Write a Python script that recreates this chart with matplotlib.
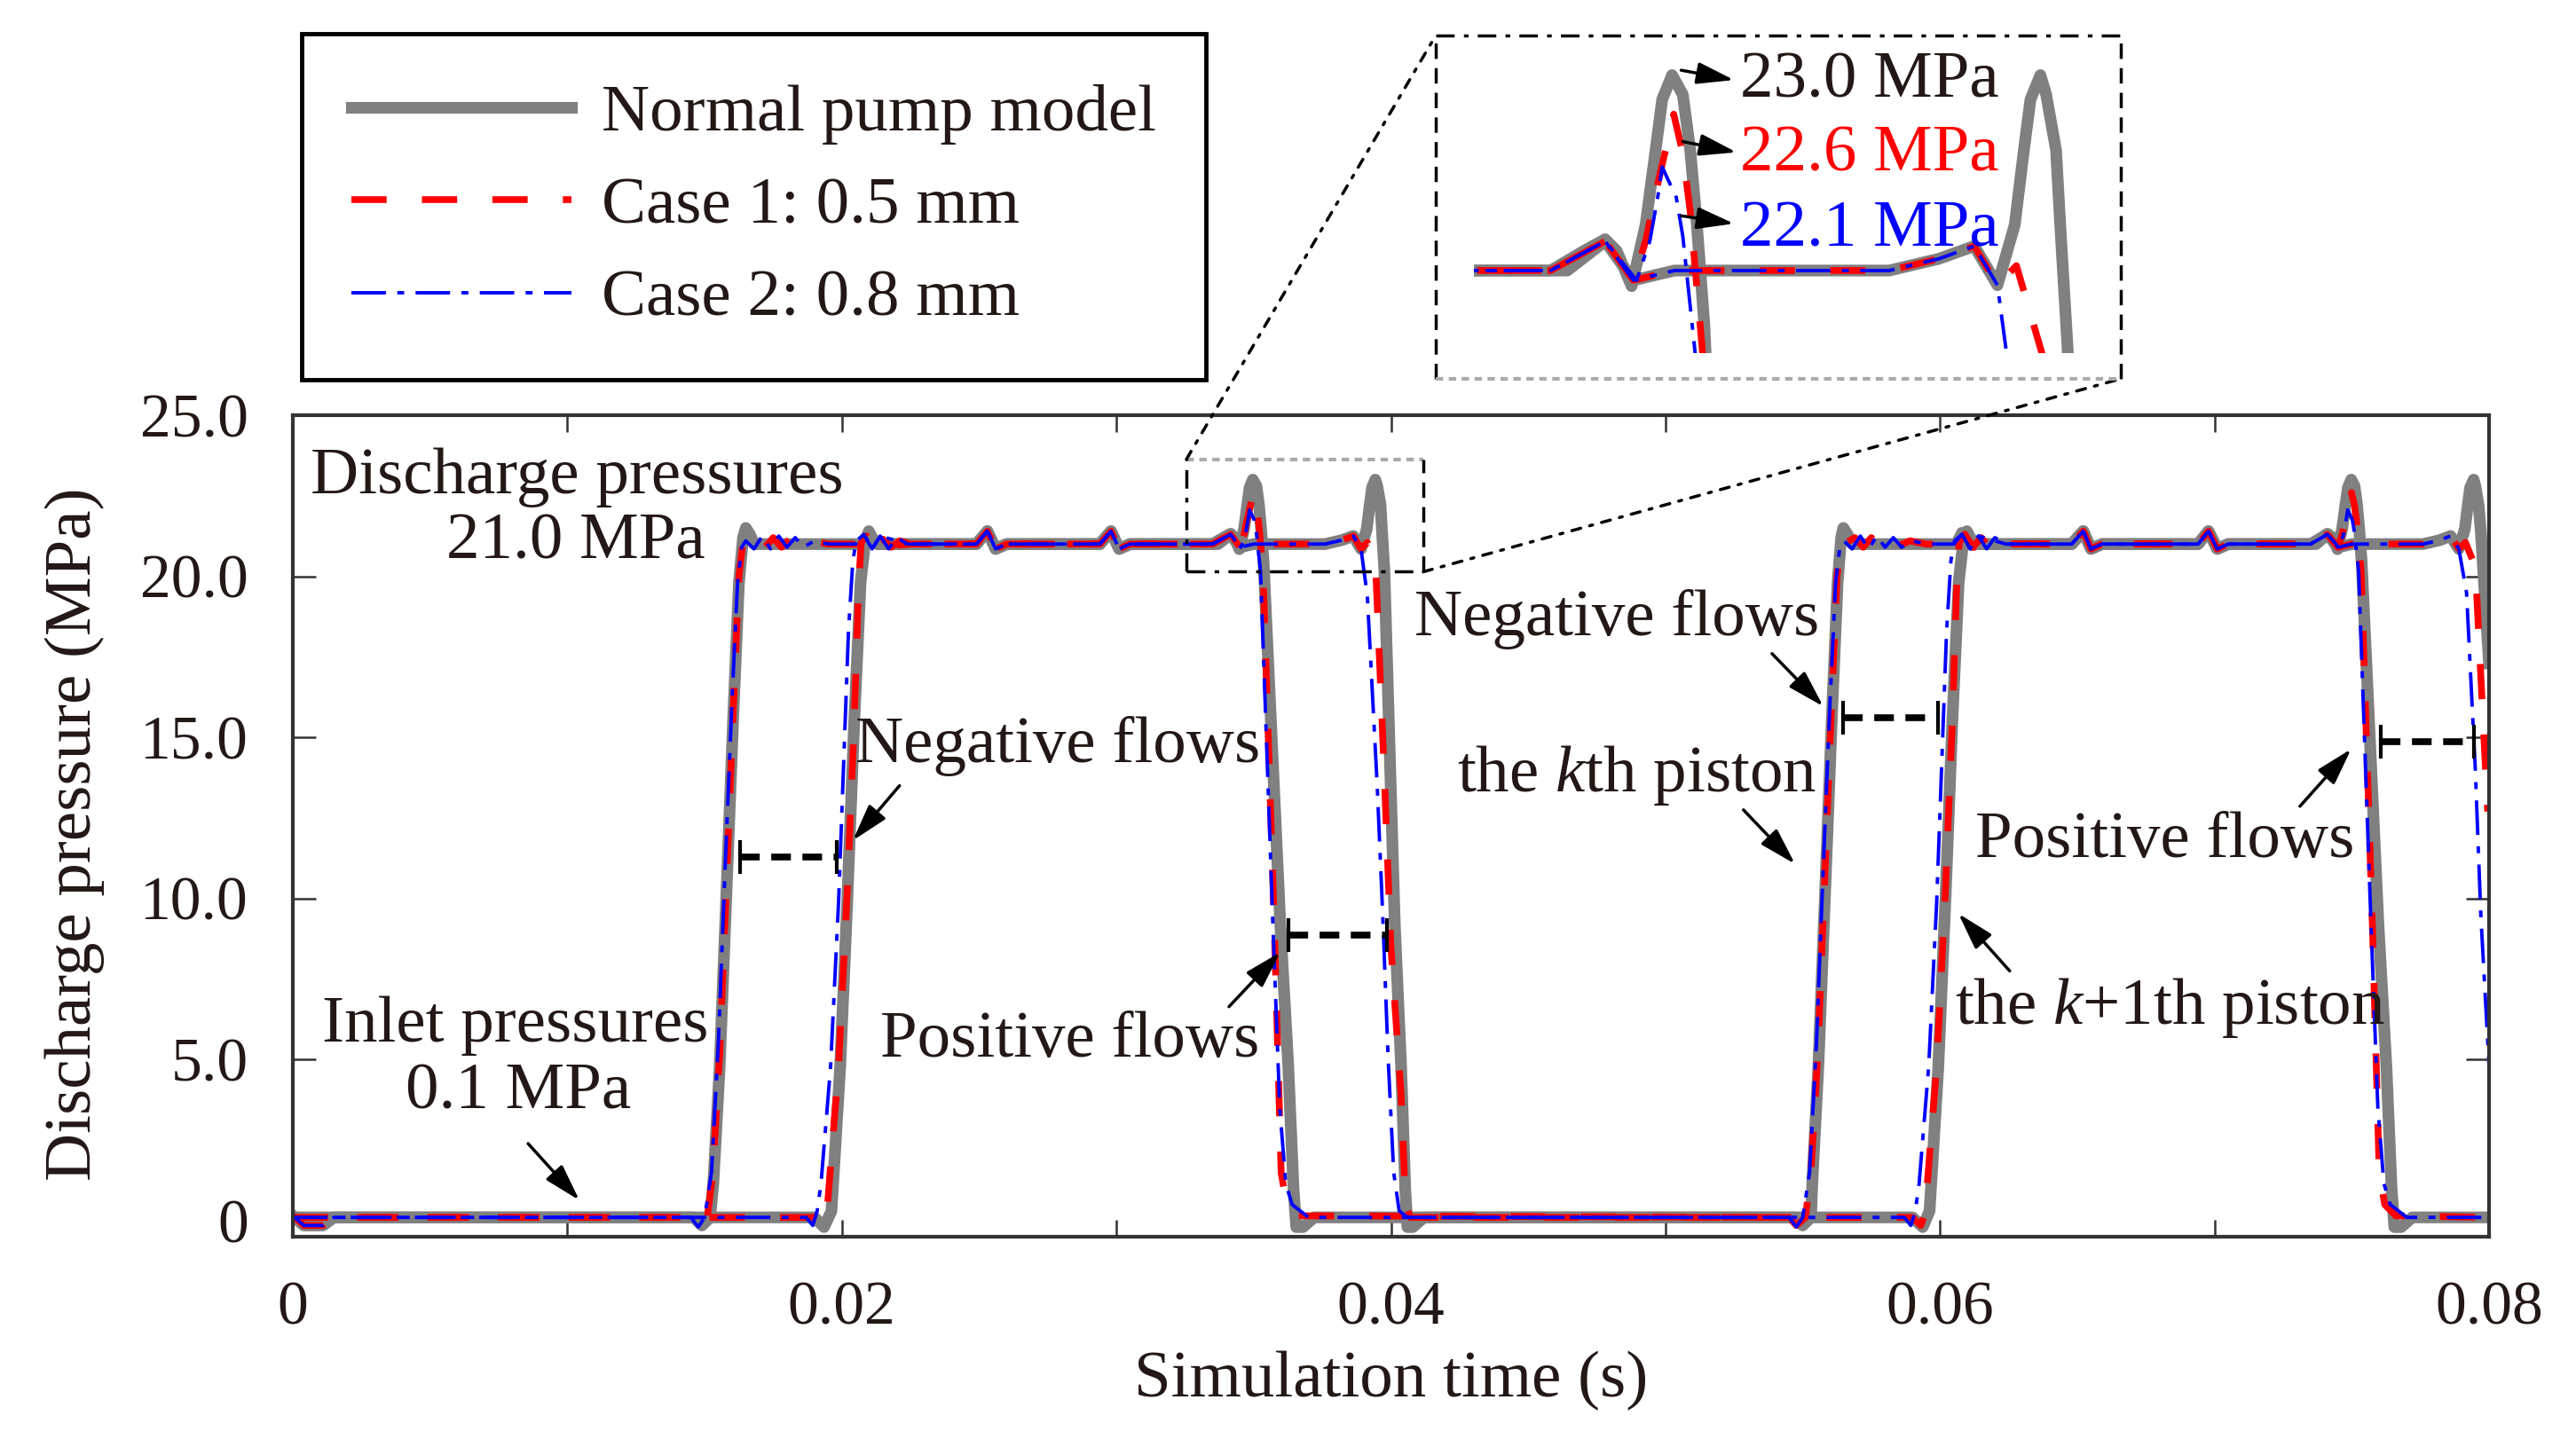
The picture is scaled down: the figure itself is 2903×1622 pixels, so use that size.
import numpy as np
import matplotlib.pyplot as plt
from matplotlib.lines import Line2D
from matplotlib.patches import ConnectionPatch

plt.rcParams['font.family'] = ['Liberation Serif', 'DejaVu Serif']
plt.rcParams['mathtext.fontset'] = 'custom'
plt.rcParams['mathtext.rm'] = 'Liberation Serif'
plt.rcParams['mathtext.it'] = 'Liberation Serif:italic'

# ---------------- data (time in s, pressure in MPa) ----------------
# normal pump model, kth piston
normal_k_t = [0.0, 0.0146, 0.0149, 0.0152, 0.01532, 0.01555, 0.0158, 0.01605, 0.01625, 0.0164, 0.0165, 0.01665, 0.0168,
              0.0208, 0.0210, 0.0213, 0.0249, 0.0253, 0.0256, 0.0260, 0.0294, 0.0298, 0.0301, 0.0305,
              0.0335, 0.0339, 0.03416, 0.0343, 0.03448, 0.03465, 0.03477, 0.03485, 0.03497, 0.0351, 0.03519, 0.03527, 0.03536,
              0.03597, 0.03626, 0.03645, 0.03655, 0.0368, 0.0372,
              0.0547, 0.0550, 0.0553, 0.05535, 0.05557, 0.05582, 0.05607, 0.05627, 0.0564, 0.05648, 0.05663, 0.0568,
              0.0606, 0.0608, 0.0611, 0.0648, 0.06522, 0.0655, 0.0659, 0.0694, 0.06978, 0.0701, 0.0705,
              0.0735, 0.0739, 0.07411, 0.0743, 0.07448, 0.07465, 0.07477, 0.07486, 0.07498, 0.0751, 0.07519, 0.07527, 0.07536,
              0.07597, 0.07626, 0.07645, 0.07655, 0.0768, 0.0772, 0.0800]
normal_k_p = [0.1, 0.1, -0.15, 0.1, 1.2, 4.8, 10.3, 15.8, 19.8, 21.2, 21.5, 21.3, 21.0,
              21.0, 21.3, 21.0, 21.0, 21.4, 20.85, 21.0, 21.0, 21.4, 20.85, 21.0,
              21.0, 21.2, 21.32, 21.2, 20.84, 21.47, 22.23, 22.75, 23.0, 22.8, 22.23, 21.47, 20.45,
              9.2, 4.8, 1.0, -0.2, -0.2, 0.1,
              0.1, -0.15, 0.1, 1.2, 4.8, 10.3, 15.8, 19.8, 21.2, 21.5, 21.3, 21.0,
              21.0, 21.35, 21.0, 21.0, 21.4, 20.85, 21.0, 21.0, 21.4, 20.85, 21.0,
              21.0, 21.2, 21.32, 21.2, 20.84, 21.47, 22.23, 22.75, 23.0, 22.8, 22.23, 21.47, 20.45,
              9.2, 4.8, 1.0, -0.2, -0.2, 0.1, 0.1]

# normal pump model, k+1th piston
normal_k1_t = [0.0, 0.0004, 0.0011, 0.0015, 0.0190, 0.01935, 0.01962, 0.01994, 0.0202, 0.02045, 0.02068, 0.02085, 0.02098, 0.0211, 0.0213,
               0.0249, 0.0253, 0.0256, 0.0260, 0.0294, 0.0298, 0.0301, 0.0305, 0.0337, 0.03416, 0.0345, 0.0350,
               0.0376, 0.0382, 0.03863, 0.03891, 0.03912, 0.03923, 0.03931, 0.03943, 0.0395, 0.03962, 0.03967, 0.03976,
               0.04014, 0.04037, 0.04052, 0.0406, 0.0408, 0.0412,
               0.0590, 0.05937, 0.05962, 0.05994, 0.0602, 0.06045, 0.06068, 0.06085, 0.06098, 0.0611, 0.0613,
               0.0648, 0.06522, 0.0655, 0.0659, 0.0694, 0.06978, 0.0701, 0.0705, 0.0737, 0.07411, 0.0745, 0.0750,
               0.0776, 0.0782, 0.0786, 0.0789, 0.07912, 0.07923, 0.07931, 0.07944, 0.0795, 0.07962, 0.0797, 0.0800]
normal_k1_p = [0.15, -0.15, -0.15, 0.1, 0.1, -0.2, 0.3, 4.8, 10.0, 15.5, 19.8, 21.1, 21.4, 21.2, 21.0,
               21.0, 21.4, 20.85, 21.0, 21.0, 21.4, 20.85, 21.0, 21.0, 21.3, 20.9, 21.0,
               21.0, 21.12, 21.25, 20.85, 21.47, 22.23, 22.75, 23.0, 22.8, 22.23, 21.47, 20.2,
               9.2, 4.8, 1.0, -0.2, -0.2, 0.1,
               0.1, -0.2, 0.3, 4.8, 10.0, 15.5, 19.8, 21.1, 21.4, 21.2, 21.0,
               21.0, 21.4, 20.85, 21.0, 21.0, 21.4, 20.85, 21.0, 21.0, 21.3, 20.9, 21.0,
               21.0, 21.12, 21.25, 20.85, 21.47, 22.23, 22.75, 23.0, 22.8, 22.2, 21.4, 17.3]

# case 1 (0.5 mm), kth piston
case1_k_t = [0.0, 0.0145, 0.01477, 0.0151, 0.0153, 0.01555, 0.0158, 0.01605, 0.01625, 0.0164, 0.0166,
             0.0169, 0.0172, 0.0175, 0.0178, 0.0181, 0.0185, 0.0189, 0.0195, 0.0205, 0.0209, 0.0212, 0.0215, 0.0218, 0.0221, 0.0225,
             0.0249, 0.0253, 0.0256, 0.0260, 0.0294, 0.0298, 0.0301, 0.0305,
             0.0335, 0.03416, 0.0345, 0.03465, 0.0348, 0.03499, 0.0351, 0.03519, 0.03534, 0.03575, 0.0360, 0.0362, 0.0366,
             0.0545, 0.05477, 0.0551, 0.0553, 0.05555, 0.0558, 0.05605, 0.05625, 0.0564, 0.0566,
             0.0569, 0.0572, 0.0575, 0.0578, 0.0581, 0.0585, 0.0589, 0.0595, 0.0605, 0.0609, 0.0612, 0.0615, 0.0618, 0.0621, 0.0625,
             0.0648, 0.06522, 0.0655, 0.0659, 0.0694, 0.06978, 0.0701, 0.0705,
             0.0735, 0.07411, 0.0745, 0.07465, 0.0748, 0.07499, 0.0751, 0.07519, 0.07534, 0.07575, 0.0760, 0.0762, 0.0766, 0.0800]
case1_k_p = [0.1, 0.1, -0.15, 0.1, 1.5, 5.2, 10.6, 16.0, 20.0, 21.1, 21.05,
             21.2, 20.9, 21.2, 20.9, 21.15, 20.95, 21.1, 21.0, 21.0, 21.25, 20.9, 21.15, 20.9, 21.1, 21.0,
             21.0, 21.4, 20.85, 21.0, 21.0, 21.4, 20.85, 21.0,
             21.0, 21.3, 20.9, 21.3, 21.9, 22.6, 22.2, 21.6, 20.15, 9.2, 1.5, 0.5, 0.15,
             0.1, -0.15, 0.1, 1.5, 5.2, 10.6, 16.0, 20.0, 21.1, 21.05,
             21.2, 20.9, 21.2, 20.9, 21.15, 20.95, 21.1, 21.0, 21.0, 21.3, 20.9, 21.2, 20.9, 21.15, 21.0,
             21.0, 21.4, 20.85, 21.0, 21.0, 21.4, 20.85, 21.0,
             21.0, 21.3, 20.9, 21.3, 21.9, 22.6, 22.2, 21.6, 20.15, 9.2, 1.5, 0.5, 0.15, 0.1]

# case 1 (0.5 mm), k+1th piston
case1_k1_t = [0.0, 0.0004, 0.0011, 0.0015, 0.0190, 0.0193, 0.01945, 0.01988, 0.0202, 0.02045, 0.0206, 0.0207, 0.0209, 0.0212, 0.0225,
              0.0249, 0.0253, 0.0256, 0.0260, 0.0294, 0.0298, 0.0301, 0.0305, 0.0335, 0.03416, 0.0345, 0.0350,
              0.0376, 0.0382, 0.03863, 0.03891, 0.03914, 0.03945, 0.03975, 0.0400, 0.04037, 0.04053, 0.0407,
              0.0590, 0.0593, 0.05945, 0.05988, 0.0602, 0.06045, 0.0606, 0.0607, 0.0609, 0.0612, 0.0625,
              0.0648, 0.06522, 0.0655, 0.0659, 0.0694, 0.06978, 0.0701, 0.0705, 0.0735, 0.07411, 0.0745, 0.0750,
              0.0776, 0.0782, 0.0786, 0.0789, 0.07914, 0.0795, 0.07995]
case1_k1_p = [0.15, -0.15, -0.15, 0.1, 0.1, -0.15, 0.2, 4.8, 10.3, 15.5, 19.5, 21.05, 21.25, 20.9, 21.0,
              21.0, 21.4, 20.85, 21.0, 21.0, 21.4, 20.85, 21.0, 21.0, 21.3, 20.9, 21.0,
              21.0, 21.12, 21.25, 20.85, 21.05, 20.15, 14.0, 8.5, 3.9, 0.6, 0.1,
              0.1, -0.15, 0.2, 4.8, 10.3, 15.5, 19.5, 21.05, 21.3, 20.9, 21.0,
              21.0, 21.4, 20.85, 21.0, 21.0, 21.4, 20.85, 21.0, 21.0, 21.3, 20.9, 21.0,
              21.0, 21.12, 21.25, 20.85, 21.05, 20.3, 12.7]

# case 2 (0.8 mm), kth piston
case2_k_t = [0.0, 0.0145, 0.01477, 0.0150, 0.01525, 0.0155, 0.01575, 0.0160, 0.0162, 0.01635, 0.0165,
             0.0168, 0.0171, 0.0174, 0.0177, 0.0180, 0.0183, 0.0186, 0.0190, 0.0195, 0.0205, 0.0208, 0.0211, 0.0214, 0.0217, 0.0220, 0.0224,
             0.0249, 0.0253, 0.0256, 0.0260, 0.0294, 0.0298, 0.0301, 0.0305,
             0.0335, 0.03416, 0.03454, 0.0347, 0.0348, 0.03485, 0.03502, 0.0351, 0.03525, 0.0357, 0.03595, 0.03617, 0.0364, 0.0367, 0.0370,
             0.0545, 0.05477, 0.0550, 0.05525, 0.0555, 0.05575, 0.0560, 0.0562, 0.05635, 0.0565,
             0.0568, 0.0571, 0.0574, 0.0577, 0.0580, 0.0583, 0.0586, 0.0590, 0.0595, 0.0605, 0.0608, 0.0611, 0.0614, 0.0617, 0.0620, 0.0624,
             0.0648, 0.06522, 0.0655, 0.0659, 0.0694, 0.06978, 0.0701, 0.0705,
             0.0735, 0.07411, 0.07454, 0.0747, 0.0748, 0.07485, 0.07502, 0.0751, 0.07525, 0.0757, 0.07595, 0.07617, 0.0764, 0.0767, 0.0770, 0.0800]
case2_k_p = [0.1, 0.1, -0.2, 0.1, 1.5, 5.5, 11.0, 16.2, 19.8, 20.9, 21.1,
             20.85, 21.25, 20.85, 21.25, 20.9, 21.2, 20.9, 21.1, 21.0, 21.0, 21.3, 20.85, 21.25, 20.85, 21.2, 21.0,
             21.0, 21.4, 20.85, 21.0, 21.0, 21.4, 20.85, 21.0,
             21.0, 21.3, 20.9, 21.3, 21.77, 22.06, 21.75, 21.35, 20.15, 9.2, 3.5, 1.15, 0.5, 0.3, 0.1,
             0.1, -0.2, 0.1, 1.5, 5.5, 11.0, 16.2, 19.8, 20.9, 21.1,
             20.85, 21.25, 20.85, 21.25, 20.9, 21.2, 20.9, 21.1, 21.0, 21.0, 21.3, 20.85, 21.25, 20.85, 21.2, 21.0,
             21.0, 21.4, 20.85, 21.0, 21.0, 21.4, 20.85, 21.0,
             21.0, 21.3, 20.9, 21.3, 21.77, 22.06, 21.75, 21.35, 20.15, 9.2, 3.5, 1.15, 0.5, 0.3, 0.1, 0.1]

# case 2 (0.8 mm), k+1th piston
case2_k1_t = [0.0, 0.0004, 0.0011, 0.0015, 0.0187, 0.01894, 0.0191, 0.01924, 0.01959, 0.01988, 0.02024, 0.0204, 0.02053, 0.0208, 0.0211, 0.0214, 0.0224,
              0.0249, 0.0253, 0.0256, 0.0260, 0.0294, 0.0298, 0.0301, 0.0305, 0.0335, 0.03416, 0.0345, 0.0350,
              0.0376, 0.0382, 0.03863, 0.03891, 0.03914, 0.0395, 0.0397, 0.0399, 0.0401, 0.0403, 0.0406,
              0.0587, 0.05894, 0.0591, 0.05924, 0.05959, 0.05988, 0.06024, 0.0604, 0.06053, 0.0608, 0.0611, 0.0614, 0.0624,
              0.0648, 0.06522, 0.0655, 0.0659, 0.0694, 0.06978, 0.0701, 0.0705, 0.0735, 0.07411, 0.0745, 0.0750,
              0.0776, 0.0782, 0.0786, 0.0789, 0.07918, 0.0795, 0.0797, 0.0800]
case2_k1_p = [0.15, -0.15, -0.15, 0.1, 0.1, -0.15, 0.3, 1.15, 4.8, 9.9, 18.3, 20.5, 21.1, 21.3, 20.85, 21.25, 21.0,
              21.0, 21.4, 20.85, 21.0, 21.0, 21.4, 20.85, 21.0, 21.0, 21.3, 20.9, 21.0,
              21.0, 21.12, 21.25, 20.85, 19.4, 13.5, 9.5, 5.0, 1.5, 0.3, 0.1,
              0.1, -0.15, 0.3, 1.15, 4.8, 9.9, 18.3, 20.5, 21.1, 21.3, 20.85, 21.25, 21.0,
              21.0, 21.4, 20.85, 21.0, 21.0, 21.4, 20.85, 21.0, 21.0, 21.3, 20.9, 21.0,
              21.0, 21.12, 21.25, 20.85, 19.5, 14.0, 9.5, 4.8]

series_labels = ['Normal pump model', 'Case 1: 0.5 mm', 'Case 2: 0.8 mm']
x_ticks = [0, 0.02, 0.04, 0.06, 0.08]
x_tick_labels = ['0', '0.02', '0.04', '0.06', '0.08']
y_ticks = [0, 5, 10, 15, 20, 25]
y_tick_labels = ['0', '5.0', '10.0', '15.0', '20.0', '25.0']

# time-lag markers between kth and k+1th piston
bar_t0 = [0.01629, 0.03626, 0.05646, 0.07605]
bar_t1 = [0.01981, 0.03985, 0.05992, 0.07944]
bar_p = [11.29, 8.87, 15.6, 14.86]

# zoomed window (main axes data coordinates)
zoom_t = [0.03255, 0.04118]
zoom_p = [20.14, 23.63]

# ---------------- figure ----------------
W, H = 2903, 1622
def fx(x):
    return x / W
def fy(y):
    return 1 - y / H

TXT = '#231815'
FS = 54

fig = plt.figure(figsize=(W / 100, H / 100), dpi=100)
ax = fig.add_axes([fx(330), fy(1394), fx(2805) - fx(330), fy(468) - fy(1394)])

styles = [dict(color='#808080', lw=9.5, ls='-', solid_joinstyle='round'),
          dict(color='#ff0000', lw=5.5, ls=(0, (5.2, 5.2))),
          dict(color='#0000ff', lw=2.8, ls=(0, (10, 3.3, 2, 3.3)))]
curves = [(normal_k_t, normal_k_p, normal_k1_t, normal_k1_p),
          (case1_k_t, case1_k_p, case1_k1_t, case1_k1_p),
          (case2_k_t, case2_k_p, case2_k1_t, case2_k1_p)]

# inset axes (no frame), showing the zoomed window
ax_in = fig.add_axes([fx(1661), fy(398), fx(2385) - fx(1661), fy(45) - fy(398)])
ax_in.axis('off')

handles = []
for (kt, kp, k1t, k1p), st in zip(curves, styles):
    h, = ax.plot(kt, kp, **st)
    ax.plot(k1t, k1p, **st)
    ax_in.plot(kt, kp, **st)
    ax_in.plot(k1t, k1p, **st)
    handles.append(h)

ax_in.set_xlim(0.03257, 0.04035)
ax_in.set_ylim(20.155, 23.36)

ax.set_xlim(0, 0.08)
ax.set_ylim(-0.5, 25)
ax.set_xticks(x_ticks, labels=x_tick_labels)
ax.set_xticks([0.01, 0.03, 0.05, 0.07], minor=True)
ax.set_yticks(y_ticks, labels=y_tick_labels)
ax.tick_params(which='both', direction='in', top=True, right=True, width=1.8,
               color='#333333', labelsize=50, pad=36, labelcolor=TXT)
ax.tick_params(axis='x', which='both', length=14)
ax.tick_params(axis='y', which='major', length=19)
for s in ax.spines.values():
    s.set_linewidth(3)
    s.set_color('#333333')

ax.set_xlabel('Simulation time (s)', fontsize=FS, color=TXT)
ax.xaxis.set_label_coords(0.5, -0.175)
ax.xaxis.label.set_va('center')
ax.set_ylabel('Discharge pressure (MPa)', fontsize=FS, color=TXT)
ax.yaxis.set_label_coords(-0.0994, 0.49)
ax.yaxis.label.set_va('center')
ax.yaxis.label.set_ha('center')

# legend
leg = ax.legend(handles, series_labels, loc='upper left', bbox_to_anchor=(fx(340), fy(38)),
                bbox_transform=fig.transFigure, fontsize=FS, frameon=True, fancybox=False,
                edgecolor='k', framealpha=1, borderpad=0.75, handlelength=3.3,
                handletextpad=0.45, labelspacing=0.48, borderaxespad=0)
leg.get_frame().set_linewidth(3.5)
for t in leg.get_texts():
    t.set_color(TXT)

# arrows
def arrow(a, tail, head):
    a.annotate('', xy=head, xytext=tail,
               arrowprops=dict(arrowstyle='-|>,head_length=0.85,head_width=0.25', color='k',
                               lw=2.5, shrinkA=0, shrinkB=0, mutation_scale=30))

# texts in the main axes
tk = dict(fontsize=FS, color=TXT, ha='center', va='baseline')
ax.text(0.01034, 22.58, 'Discharge pressures', **tk)
ax.text(0.0103, 20.54, '21.0 MPa', **tk)
ax.text(0.00812, 5.55, 'Inlet pressures', **tk)
ax.text(0.00821, 3.49, '0.1 MPa', **tk)
ax.text(0.02787, 14.23, 'Negative flows', **tk)
ax.text(0.02829, 5.08, 'Positive flows', **tk)
ax.text(0.04823, 18.16, 'Negative flows', **tk)
ax.text(0.04894, 13.32, 'the $k$th piston', **tk)
ax.text(0.0682, 11.29, 'Positive flows', **tk)
ax.text(0.06839, 6.1, 'the $k$+1th piston', **tk)

arrow(ax, (0.00857, 2.39), (0.01044, 0.63))
arrow(ax, (0.0221, 13.5), (0.0204, 11.8))
arrow(ax, (0.0341, 6.64), (0.03597, 8.33))
arrow(ax, (0.05388, 17.6), (0.05575, 15.96))
arrow(ax, (0.05284, 12.75), (0.05472, 11.07))
arrow(ax, (0.07311, 12.86), (0.07498, 14.64))
arrow(ax, (0.06254, 7.75), (0.06067, 9.53))

# time-lag bars
ax.hlines(bar_p, bar_t0, bar_t1, colors='k', linestyles=(0, (2.9, 1.7)), lw=5.5)
ax.vlines(bar_t0 + bar_t1, [p - 0.52 for p in bar_p * 2], [p + 0.52 for p in bar_p * 2], colors='k', lw=3)

# zoom window in main axes
dd = dict(color='k', lw=2.5, ls=(0, (6, 3, 1.5, 3)), clip_on=False)
ax.plot([zoom_t[0], zoom_t[1]], [zoom_p[1], zoom_p[1]], color='#aaaaaa', lw=3, ls=(0, (2, 1.5)))
ax.plot([zoom_t[0], zoom_t[0]], zoom_p, **dd)
ax.plot([zoom_t[1], zoom_t[1]], zoom_p, color='k', lw=2.5, ls=(0, (5, 3)))
ax.plot(zoom_t, [zoom_p[0], zoom_p[0]], **dd)

# inset frame
box_x = [fx(1618), fx(2390)]
box_y = [fy(427), fy(40)]
fig.add_artist(Line2D(box_x, [box_y[1]] * 2, transform=fig.transFigure, color='k', lw=2.5, ls=(0, (6, 3, 1.5, 3))))
fig.add_artist(Line2D([box_x[0]] * 2, box_y, transform=fig.transFigure, color='k', lw=2.5, ls=(0, (5, 3))))
fig.add_artist(Line2D([box_x[1]] * 2, box_y, transform=fig.transFigure, color='k', lw=2.5, ls=(0, (5, 3))))
fig.add_artist(Line2D(box_x, [box_y[0]] * 2, transform=fig.transFigure, color='#aaaaaa', lw=3, ls=(0, (2, 1.5))))

# connectors
for xa, xb in [((zoom_t[0], zoom_p[1]), (box_x[0], box_y[1])),
               ((zoom_t[1], zoom_p[0]), (box_x[1], box_y[0]))]:
    cp = ConnectionPatch(xyA=xa, coordsA=ax.transData, xyB=xb, coordsB=fig.transFigure,
                         color='k', lw=2.5, ls=(0, (3, 3, 1, 3)))
    fig.add_artist(cp)

# inset annotations
ti = dict(fontsize=FS, ha='left', va='baseline')
ax_in.text(0.03579, 22.77, '23.0 MPa', color=TXT, **ti)
ax_in.text(0.03579, 22.02, '22.6 MPa', color='#ff0000', **ti)
ax_in.text(0.03579, 21.25, '22.1 MPa', color='#0000ff', **ti)
arrow(ax_in, (0.03508, 23.05), (0.03572, 22.95))
arrow(ax_in, (0.0351, 22.32), (0.03575, 22.21))
arrow(ax_in, (0.03508, 21.56), (0.03572, 21.48))

fig.savefig('out.png', dpi=100)
